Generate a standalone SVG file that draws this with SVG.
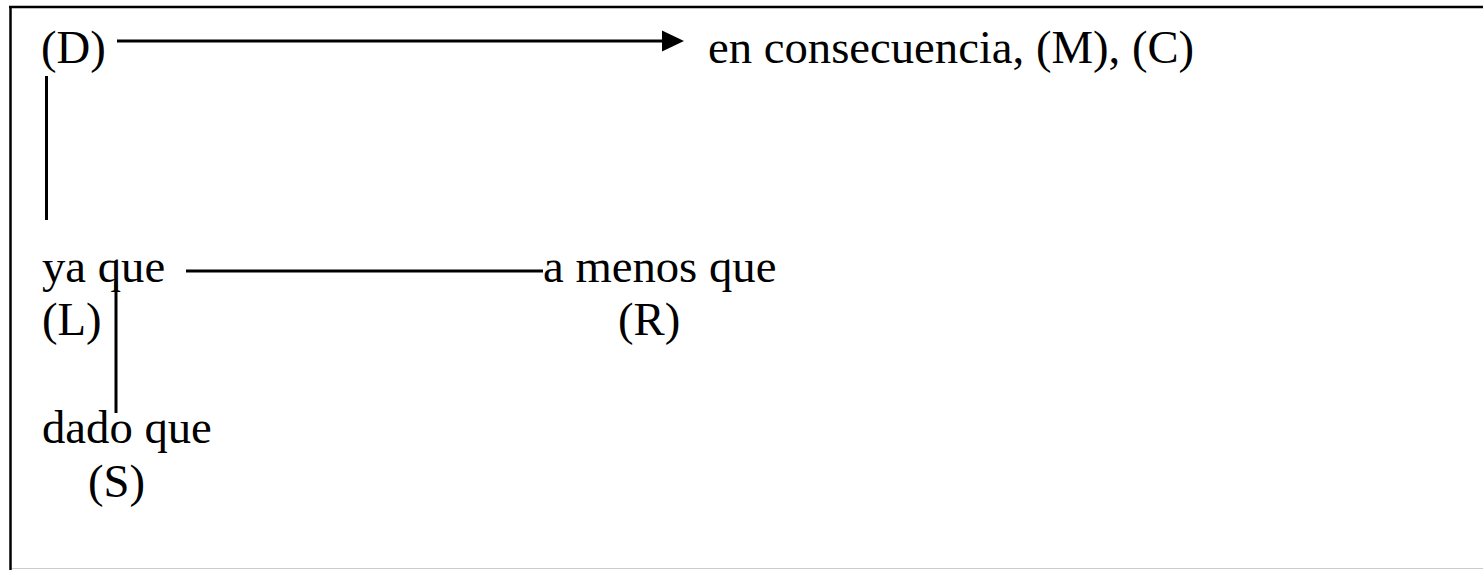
<svg xmlns="http://www.w3.org/2000/svg" width="1483" height="570" viewBox="0 0 1483 570">
<style>
text{font-family:"Liberation Serif","Times New Roman",serif;font-size:46.7px;fill:#000}
.ln{stroke:#000;stroke-width:3;fill:none}
</style>
<rect x="0" y="0" width="1483" height="570" fill="#fff"/>
<g id="frame">
<line x1="9" y1="7" x2="1483" y2="7" stroke="#000" stroke-width="2.5"/>
<line x1="10.5" y1="6" x2="10.5" y2="570" stroke="#000" stroke-width="2.5"/>
<line x1="12" y1="568.5" x2="1483" y2="568.5" stroke="#ccc" stroke-width="1"/>
</g>
<g id="connectors">
<line class="ln" x1="117" y1="41" x2="665" y2="41"/>
<path d="M662,30.5 L684,41 L662,51.5 Z" fill="#000"/>
<line class="ln" x1="46.5" y1="76" x2="46.5" y2="220"/>
<line class="ln" x1="186" y1="271" x2="543" y2="271"/>
<line class="ln" x1="116" y1="281" x2="116" y2="413"/>
</g>
<g id="node-D"><text x="41" y="63">(D)</text></g>
<g id="node-consecuencia"><text x="708" y="63">en consecuencia, (M), (C)</text></g>
<g id="node-yaque"><text x="42" y="282">ya que</text><text x="42" y="335">(L)</text></g>
<g id="node-amenos"><text x="543" y="282">a menos que</text><text x="618" y="335">(R)</text></g>
<g id="node-dado"><text x="42" y="443">dado que</text><text x="88" y="497">(S)</text></g>
</svg>
